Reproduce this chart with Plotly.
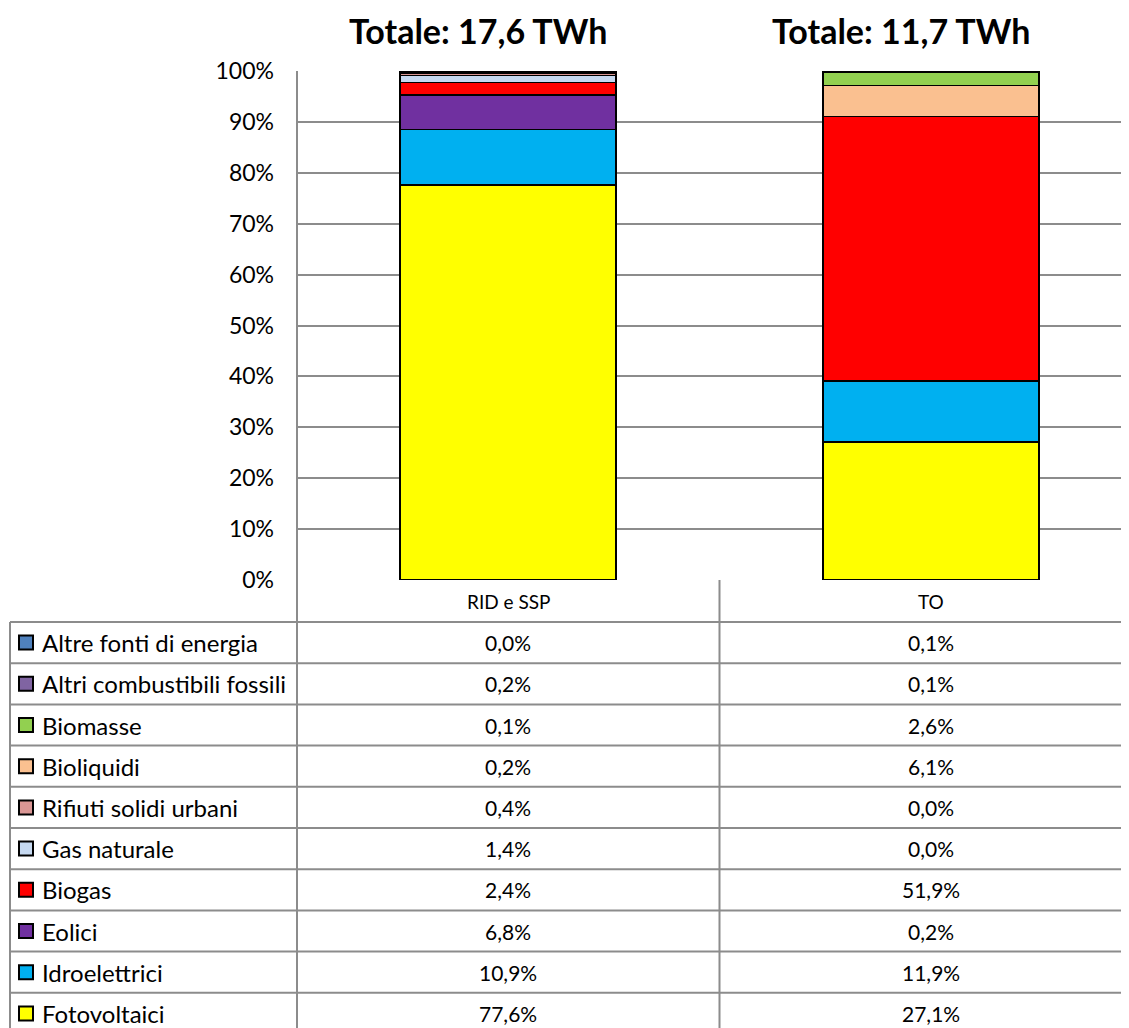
import plotly.graph_objects as go

categories = ["RID e SSP", "TO"]
totals = ["Totale: 17,6 TWh", "Totale: 11,7 TWh"]
# stacking order bottom -> top
sources = ["Fotovoltaici", "Idroelettrici", "Eolici", "Biogas", "Gas naturale",
           "Rifiuti solidi urbani", "Bioliquidi", "Biomasse",
           "Altri combustibili fossili", "Altre fonti di energia"]
rid_values = [77.6, 10.9, 6.8, 2.4, 1.4, 0.4, 0.2, 0.1, 0.2, 0.0]
to_values = [27.1, 11.9, 0.2, 51.9, 0.0, 0.0, 6.1, 2.6, 0.1, 0.1]
colors = ["#FFFF00", "#00B0F0", "#7030A0", "#FF0000", "#C6D9F1",
          "#DA9694", "#FAC090", "#92D050", "#8064A2", "#4F81BD"]
y_ticks = [0, 10, 20, 30, 40, 50, 60, 70, 80, 90, 100]

# page has an 8px body margin; figure coordinates = page - 8
W, H = 1121, 1020
L, R, T, B = 289, 0, 63, 448
PW = W - L - R
PH = H - T - B
FONT = "Lato"
GRID = "#8C8C8C"


def pxx(px):
    return (px - L) / PW


def pxy(py):
    return (H - B - py) / PH


fig = go.Figure()
for i, s in enumerate(sources):
    fig.add_trace(go.Bar(
        x=[0, 1], y=[rid_values[i], to_values[i]], name=s,
        marker=dict(color=colors[i], line=dict(color="black", width=1.5)),
        width=0.51, showlegend=False,
    ))

shapes = []
annotations = []

# titles (slightly left of the bar centres, as in the original)
for i, t in enumerate(totals):
    annotations.append(dict(x=i - 0.072, y=pxy(22), xref="x", yref="paper", text="<b>%s</b>" % t,
                            showarrow=False, font=dict(family=FONT, size=34, color="black"),
                            xanchor="center", yanchor="middle"))

# table geometry
row_top = 614
row_h = 41.2
n = len(sources)
rows = list(reversed(range(n)))  # top row = last source
line_style = dict(color=GRID, width=2)

for k in range(n + 1):
    yy = row_top + k * row_h
    shapes.append(dict(type="line", xref="paper", yref="paper", x0=pxx(2), x1=1.0,
                       y0=pxy(yy), y1=pxy(yy), line=line_style))
bottom = row_top + n * row_h
shapes.append(dict(type="line", xref="paper", yref="paper", x0=pxx(2), x1=pxx(2),
                   y0=pxy(row_top), y1=pxy(bottom), line=line_style))
shapes.append(dict(type="line", xref="paper", yref="paper", x0=0, x1=0,
                   y0=1, y1=pxy(bottom), line=line_style))
shapes.append(dict(type="line", xref="x", yref="paper", x0=0.5, x1=0.5,
                   y0=0, y1=pxy(bottom), line=line_style))

for i, c in enumerate(categories):
    annotations.append(dict(x=i, y=pxy(593), xref="x", yref="paper", text=c, showarrow=False,
                            font=dict(family=FONT, size=19, color="black"),
                            xanchor="center", yanchor="middle"))


def fmt(v):
    return ("%.1f" % v).replace(".", ",") + "%"


for r, idx in enumerate(rows):
    cy = row_top + (r + 0.5) * row_h
    shapes.append(dict(type="rect", xref="paper", yref="paper",
                       x0=pxx(11), x1=pxx(25), y0=pxy(cy - 7), y1=pxy(cy + 7),
                       fillcolor=colors[idx], line=dict(color="black", width=2)))
    annotations.append(dict(x=pxx(32), y=pxy(cy), xref="paper", yref="paper",
                            text=sources[idx], showarrow=False,
                            font=dict(family=FONT, size=24, color="black"),
                            xanchor="left", yanchor="middle"))
    for i, vals in enumerate([rid_values, to_values]):
        annotations.append(dict(x=i, y=pxy(cy), xref="x", yref="paper",
                                text=fmt(vals[idx]), showarrow=False,
                                font=dict(family=FONT, size=21, color="black"),
                                xanchor="center", yanchor="middle"))

fig.update_layout(
    barmode="stack",
    width=W, height=H,
    margin=dict(l=L, r=R, t=T, b=B, pad=0),
    paper_bgcolor="white", plot_bgcolor="white",
    shapes=shapes, annotations=annotations,
    showlegend=False,
    xaxis=dict(range=[-(500 - L) / 423, (W - 500) / 423], showticklabels=False, showgrid=False,
               zeroline=False, showline=False, fixedrange=True),
    yaxis=dict(range=[0, 100], tickvals=y_ticks, ticktext=["%d%%" % v for v in y_ticks],
               showgrid=True, gridcolor=GRID, gridwidth=2, zeroline=False,
               showline=False, ticks="", ticklabelstandoff=22,
               tickfont=dict(family=FONT, size=23, color="black")),
)

fig.write_html("out.html")
